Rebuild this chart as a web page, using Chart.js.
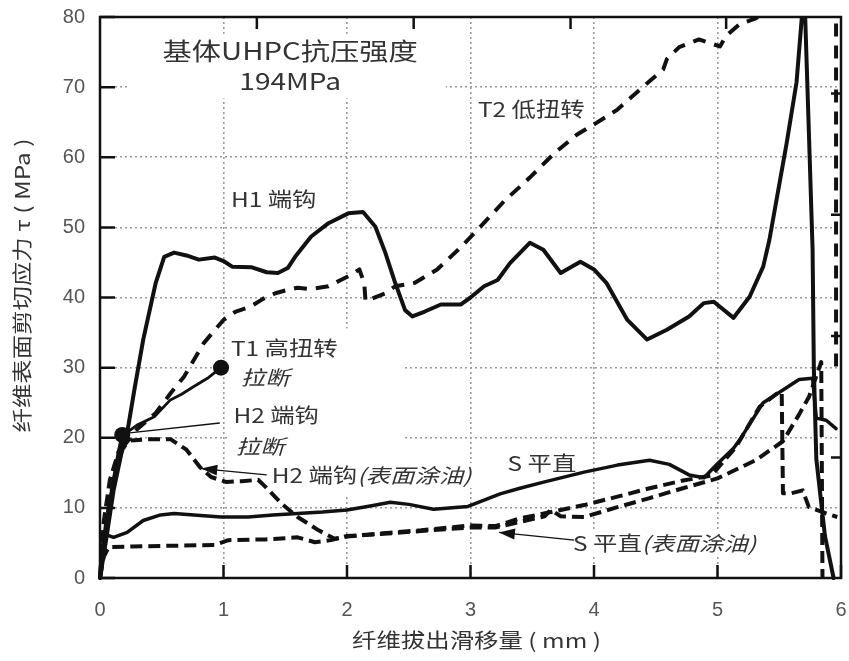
<!DOCTYPE html>
<html>
<head>
<meta charset="utf-8">
<script src="https://cdn.jsdelivr.net/npm/chart.js@4.4.0/dist/chart.umd.min.js"></script>
<style>
  html, body { margin: 0; padding: 0; background: #fff; }
  #wrap { width: 849px; height: 661px; position: relative; }
</style>
</head>
<body>
<div id="wrap"><canvas id="c" width="849" height="661"></canvas></div>
<script>
// ---- pull-out curves: slip (mm) vs. fibre surface shear stress (MPa) ----
const h1Slip   = [0,0.05,0.11,0.17,0.22,0.28,0.35,0.45,0.52,0.6,0.7,0.8,0.93,1.0,1.07,1.23,1.35,1.44,1.52,1.58,1.71,1.85,2.01,2.13,2.23,2.31,2.39,2.47,2.53,2.63,2.76,2.92,3.0,3.11,3.22,3.32,3.48,3.59,3.73,3.89,4.0,4.1,4.27,4.43,4.59,4.77,4.89,4.97,5.13,5.26,5.37,5.42,5.56,5.64,5.69,5.71,5.74,5.77,5.78,5.8,5.87,5.94];
const h1Stress = [0,5.5,12.5,17.5,20.7,27,34,42,45.8,46.4,46,45.4,45.7,45.2,44.4,44.3,43.6,43.5,44.2,45.8,48.7,50.6,52,52.2,50.1,46.4,42.1,38.2,37.3,38,39,39,40,41.6,42.5,44.9,47.8,46.8,43.5,45.1,44,42.1,36.8,34,35.4,37.3,39.2,39.4,37.1,40.1,44.4,48.2,62,70.7,81.5,80,63.5,46.8,30,17,6,0];

const t2Slip   = [0,0.05,0.12,0.2,0.3,0.45,0.57,0.68,0.84,1.0,1.1,1.22,1.32,1.42,1.5,1.6,1.7,1.85,1.95,2.03,2.1,2.14,2.15,2.31,2.39,2.55,2.73,2.9,3.06,3.27,3.48,3.68,3.86,4.02,4.19,4.4,4.56,4.59,4.69,4.85,5.02,5.07,5.18,5.31,5.45,5.9,5.96,5.96];
const t2Stress = [0,8,15,19,21.2,23.5,26.3,28.7,33.5,36.8,38,38.7,39.8,40.6,41,41.4,41.2,41.6,42.5,43.2,44,42,39.5,40.6,41.6,42.1,44,46.8,49.7,53.7,57.1,60.6,63.2,64.9,66.8,70.1,72.5,74,75.7,76.8,75.8,77.3,79,79.8,82,84,84,29];

const t1Slip   = [0,0.04,0.09,0.14,0.2,0.3,0.44,0.57,0.66,0.76,0.88,0.98];
const t1Stress = [0,6,12,17,20.5,21.8,23,25.4,26.2,27.3,28.6,30];

const h2BreakSlip   = [0,0.04,0.08,0.12,0.15,0.18];
const h2BreakStress = [0,6,11,15,18,20.4];

const h2OilSlip   = [0,0.03,0.08,0.15,0.25,0.4,0.57,0.7,0.81,0.9,1.02,1.15,1.28,1.34,1.47,1.6,1.77,1.9,2.0,2.3,2.6,3.0,3.2,3.4,3.65,3.92,4.19,4.45,4.72,4.95,5.15,5.34,5.48,5.52,5.53,5.6,5.69,5.74,5.88,5.97];
const h2OilStress = [0,8,14,18,19.6,19.8,19.8,18.3,15.8,14.4,13.7,13.8,14,13,10.6,8.7,6.8,5.6,5.9,6.4,6.8,7.5,7.4,8.5,9.4,10.4,11.6,12.8,13.9,14.6,18.7,24.4,26.3,26.5,12.1,12.1,12.5,10.1,9.2,8.7];

const sSlip   = [0,0.03,0.11,0.22,0.35,0.49,0.6,0.76,0.98,1.2,1.4,1.6,1.8,2.0,2.2,2.35,2.5,2.7,2.98,3.24,3.4,3.6,3.92,4.19,4.45,4.61,4.77,4.89,5.0,5.13,5.18,5.37,5.53,5.66,5.77,5.8,5.88,5.96];
const sStress = [0,6.3,5.8,6.5,8.2,9,9.2,9,8.7,8.7,9,9.2,9.4,9.7,10.3,10.8,10.5,9.8,10.2,12,12.8,13.7,15.1,16.1,16.8,16.2,14.7,14.3,16.3,18.5,19.7,25,26.8,28.3,28.5,22.8,22.5,21.3];

const sOilSlip   = [0,0.03,0.07,0.26,0.6,0.93,1.04,1.34,1.6,1.74,1.87,2.0,2.3,2.6,3.0,3.2,3.4,3.6,3.65,3.73,3.92,4.19,4.45,4.72,5.0,5.31,5.53,5.66,5.74,5.84,5.85];
const sOilStress = [0,3,4.4,4.5,4.6,4.7,5.4,5.5,5.8,5.1,5.4,6.0,6.3,6.7,7.2,7.2,8.0,8.8,9.7,8.8,8.7,10.1,11.4,12.8,14.2,16.8,19.5,23.3,25.8,30.8,0];

// axis ticks
const xTicks = [0,1,2,3,4,5,6];
const yTicks = [0,10,20,30,40,50,60,70,80];
// short inward marks on the top and right frame
const topFrameMarks   = [1.27,2.54,3.81,5.07];
const rightFrameMarks = [17.2,34.5,51.8,69.1];

const INK = '#111';
const TEXT = '#333';
const CJK = '"Noto Sans CJK SC","Noto Sans",sans-serif';
const STRETCH = 1.22;

function pts(xs, ys) { return xs.map((x, i) => ({ x, y: ys[i] })); }

function curve(label, xs, ys, width, dash, endDot) {
  const n = xs.length;
  return {
    label,
    data: pts(xs, ys),
    showLine: true,
    borderColor: INK,
    backgroundColor: INK,
    borderWidth: width,
    borderDash: dash,
    borderCapStyle: dash.length ? 'butt' : 'round',
    borderJoinStyle: 'round',
    tension: 0,
    pointRadius: c => (endDot && c.dataIndex === n - 1) ? 8 : 0,
    pointHoverRadius: 0,
    pointBackgroundColor: INK,
    pointBorderWidth: 0,
    clip: { left: 2, right: 2, top: 0, bottom: 3 }
  };
}

// annotation text, placed in data units
const notes = [
  { parts: [['基体UHPC抗压强度', false]], x: 1.54, y: 75.2, size: 24, align: 'center' },
  { parts: [['194MPa', false]],           x: 1.54, y: 70.8, size: 23, align: 'center' },
  { parts: [['T2 低扭转', false]],         x: 3.06, y: 66.8, size: 20, align: 'left' },
  { parts: [['H1 端钩', false]],           x: 1.06, y: 54.0, size: 20, align: 'left' },
  { parts: [['T1 高扭转', false]],         x: 1.06, y: 32.8, size: 20, align: 'left' },
  { parts: [['拉断', true]],               x: 1.14, y: 28.6, size: 20, align: 'left' },
  { parts: [['H2 端钩', false]],           x: 1.08, y: 23.2, size: 20, align: 'left' },
  { parts: [['拉断', true]],               x: 1.10, y: 18.7, size: 20, align: 'left' },
  { parts: [['H2 端钩', false], ['(表面涂油)', true]], x: 1.39, y: 14.6, size: 20, align: 'left' },
  { parts: [['S 平直', false]],            x: 3.3,  y: 16.4, size: 20, align: 'left' },
  { parts: [['S 平直', false], ['(表面涂油)', true]],  x: 3.83, y: 5.0, size: 20, align: 'left' }
];
// white masks behind the annotation blocks (data units: x0, x1, y0, y1)
const masks = [
  [0.24, 2.8, 68.4, 77.6],
  [1.04, 2.45, 11.6, 35.6]
];
// leader lines, [from, to] in data units; arrow = filled head at "to"
const leaders = [
  { from: [0.97, 22.1], to: [0.24, 20.7], arrow: false },
  { from: [1.35, 14.7], to: [0.82, 15.6], arrow: true },
  { from: [3.84, 5.4],  to: [3.23, 6.5],  arrow: true }
];

function measureParts(ctx, parts, size) {
  let w = 0;
  for (const [t, it] of parts) {
    ctx.font = (it ? 'italic ' : '') + size + 'px ' + CJK;
    w += ctx.measureText(t).width * STRETCH;
  }
  return w;
}

function drawParts(ctx, parts, px, py, size, align) {
  const total = measureParts(ctx, parts, size);
  let cx = align === 'center' ? px - total / 2 : px;
  ctx.fillStyle = TEXT;
  ctx.textBaseline = 'middle';
  ctx.textAlign = 'left';
  for (const [t, it] of parts) {
    ctx.font = (it ? 'italic ' : '') + size + 'px ' + CJK;
    const w = ctx.measureText(t).width;
    ctx.save();
    ctx.translate(cx, py);
    ctx.scale(STRETCH, 1);
    ctx.fillText(t, 0, 0);
    ctx.restore();
    cx += w * STRETCH;
  }
}

const decor = {
  id: 'decor',
  beforeDatasetsDraw(chart) {
    const { ctx, scales: { x, y } } = chart;
    ctx.save();
    ctx.fillStyle = '#fff';
    for (const [x0, x1, y0, y1] of masks) {
      const l = x.getPixelForValue(x0), r = x.getPixelForValue(x1);
      const t = y.getPixelForValue(y1), b = y.getPixelForValue(y0);
      ctx.fillRect(l, t, r - l, b - t);
    }
    for (const n of notes) {
      const w = measureParts(ctx, n.parts, n.size);
      const px = x.getPixelForValue(n.x), py = y.getPixelForValue(n.y);
      const l = n.align === 'center' ? px - w / 2 : px;
      ctx.fillRect(l - 3, py - n.size * 0.62, w + 6, n.size * 1.24);
    }
    ctx.restore();
  },
  afterDatasetsDraw(chart) {
    const { ctx, chartArea: a, scales: { x, y } } = chart;
    ctx.save();
    // frame
    ctx.strokeStyle = INK;
    ctx.lineWidth = 2.5;
    ctx.strokeRect(a.left, a.top, a.right - a.left, a.bottom - a.top);
    // inward tick marks
    ctx.beginPath();
    for (const v of xTicks) {
      const px = x.getPixelForValue(v);
      ctx.moveTo(px, a.bottom); ctx.lineTo(px, a.bottom - 13);
    }
    for (const v of yTicks) {
      const py = y.getPixelForValue(v);
      ctx.moveTo(a.left, py); ctx.lineTo(a.left + 15, py);
    }
    for (const v of topFrameMarks) {
      const px = x.getPixelForValue(v);
      ctx.moveTo(px, a.top); ctx.lineTo(px, a.top + 12);
    }
    for (const v of rightFrameMarks) {
      const py = y.getPixelForValue(v);
      ctx.moveTo(a.right, py); ctx.lineTo(a.right - 10, py);
    }
    ctx.stroke();
    // leader lines and arrow heads
    ctx.lineWidth = 1.4;
    for (const ld of leaders) {
      const fx = x.getPixelForValue(ld.from[0]), fy = y.getPixelForValue(ld.from[1]);
      const tx = x.getPixelForValue(ld.to[0]),   ty = y.getPixelForValue(ld.to[1]);
      ctx.beginPath(); ctx.moveTo(fx, fy); ctx.lineTo(tx, ty); ctx.stroke();
      if (ld.arrow) {
        const ang = Math.atan2(ty - fy, tx - fx);
        const len = 16, half = 5.5;
        ctx.beginPath();
        ctx.moveTo(tx, ty);
        ctx.lineTo(tx - len * Math.cos(ang) + half * Math.sin(ang), ty - len * Math.sin(ang) - half * Math.cos(ang));
        ctx.lineTo(tx - len * Math.cos(ang) - half * Math.sin(ang), ty - len * Math.sin(ang) + half * Math.cos(ang));
        ctx.closePath();
        ctx.fillStyle = INK;
        ctx.fill();
      }
    }
    // annotation text
    for (const n of notes) {
      drawParts(ctx, n.parts, x.getPixelForValue(n.x), y.getPixelForValue(n.y), n.size, n.align);
    }
    // axis titles
    drawParts(ctx, [['纤维拔出滑移量 ( mm )', false]], (a.left + a.right) / 2 + 6, a.bottom + 62, 20, 'center');
    ctx.save();
    ctx.translate(22, (a.top + a.bottom) / 2 - 12);
    ctx.rotate(-Math.PI / 2);
    drawParts(ctx, [['纤维表面剪切应力 τ ( MPa )', false]], 0, 0, 20, 'center');
    ctx.restore();
    ctx.restore();
  }
};

new Chart(document.getElementById('c'), {
  type: 'scatter',
  data: {
    datasets: [
      curve('H1 端钩', h1Slip, h1Stress, 4, [], false),
      curve('T2 低扭转', t2Slip, t2Stress, 4, [13, 9], false),
      curve('T1 高扭转', t1Slip, t1Stress, 2.8, [], true),
      curve('H2 端钩 拉断', h2BreakSlip, h2BreakStress, 3.5, [], true),
      curve('H2 端钩(表面涂油)', h2OilSlip, h2OilStress, 4, [12, 6], false),
      curve('S 平直', sSlip, sStress, 3.5, [], false),
      curve('S 平直(表面涂油)', sOilSlip, sOilStress, 4, [12, 6], false)
    ]
  },
  options: {
    responsive: false,
    animation: false,
    devicePixelRatio: 1,
    layout: { padding: { top: 17, right: 6, left: 0, bottom: 0 } },
    plugins: { legend: { display: false }, tooltip: { enabled: false } },
    events: [],
    scales: {
      x: {
        type: 'linear', min: 0, max: 6,
        afterBuildTicks: s => { s.ticks = xTicks.map(v => ({ value: v })); },
        afterFit: s => { s.height = 83; s.paddingLeft = 0; s.paddingRight = 0; },
        grid: { color: '#9a9a9a', lineWidth: 1.6, drawTicks: false },
        border: { display: false, dash: [2, 3] },
        ticks: { color: '#555', padding: 20, font: { family: '"Liberation Sans", Arial, sans-serif', size: 20 } }
      },
      y: {
        type: 'linear', min: 0, max: 80,
        afterBuildTicks: s => { s.ticks = yTicks.map(v => ({ value: v })); },
        afterFit: s => { s.width = 100; s.paddingTop = 0; s.paddingBottom = 0; },
        grid: { color: '#9a9a9a', lineWidth: 1.6, drawTicks: false },
        border: { display: false, dash: [2, 3] },
        ticks: { color: '#555', padding: 15, font: { family: '"Liberation Sans", Arial, sans-serif', size: 20 } }
      }
    }
  },
  plugins: [decor]
});
</script>
</body>
</html>
